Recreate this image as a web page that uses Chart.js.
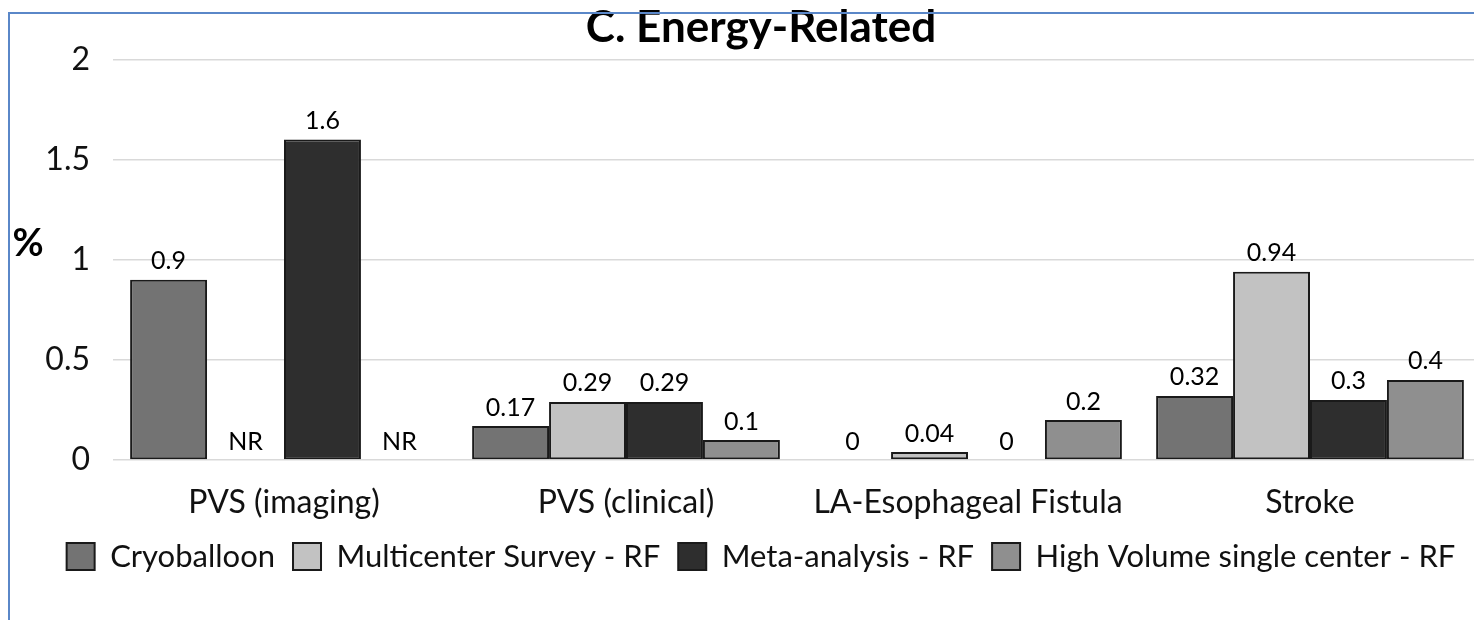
<!DOCTYPE html>
<html>
<head>
<meta charset="utf-8">
<script src="https://cdn.jsdelivr.net/npm/chart.js@4.4.1/dist/chart.umd.min.js"></script>
<style>
  html, body { margin: 0; padding: 0; background: #fff; overflow: hidden; width: 1474px; height: 620px; }
  #wrap { position: absolute; left: 0; top: 0; width: 1490px; height: 620px; }
  #frame { position: absolute; left: 8px; top: 12px; width: 1500px; height: 700px;
           border-top: 2px solid #5a87c8; border-left: 2px solid #5a87c8; pointer-events: none; }
</style>
</head>
<body>
<div id="wrap"><canvas id="c" width="1490" height="620"></canvas></div>
<div id="frame"></div>
<script>
const categories = ['PVS (imaging)', 'PVS (clinical)', 'LA-Esophageal Fistula', 'Stroke'];
const seriesNames = ['Cryoballoon', 'Multicenter Survey - RF', 'Meta-analysis - RF', 'High Volume single center - RF'];
const cryoballoon = [0.9, 0.17, 0, 0.32];
const multicenterSurvey = [null, 0.29, 0.04, 0.94];
const metaAnalysis = [1.6, 0.29, 0, 0.3];
const highVolume = [null, 0.1, 0.2, 0.4];
const yTicks = [0, 0.5, 1, 1.5, 2];
const seriesColors = ['#737373', '#c2c2c2', '#2e2e2e', '#8f8f8f'];

const seriesValues = [cryoballoon, multicenterSurvey, metaAnalysis, highVolume];

const labelPlugin = {
  id: 'valueLabels',
  afterDatasetsDraw(chart) {
    const ctx = chart.ctx;
    const y = chart.scales.y;
    ctx.save();
    ctx.font = '25px Lato';
    ctx.fillStyle = '#000';
    ctx.textAlign = 'center';
    ctx.textBaseline = 'bottom';
    chart.data.datasets.forEach((ds, di) => {
      const meta = chart.getDatasetMeta(di);
      meta.data.forEach((el, i) => {
        const v = ds.data[i];
        const txt = v === null ? 'NR' : String(v);
        const py = v === null ? y.getPixelForValue(0) : el.y;
        ctx.fillText(txt, el.x, py - 6);
      });
    });
    // "%" axis label
    ctx.font = 'bold 38px Lato';
    ctx.textBaseline = 'middle';
    ctx.fillText('%', chart.chartArea.left - 85, y.getPixelForValue(1) - 16);
    ctx.restore();
  }
};

new Chart(document.getElementById('c'), {
  type: 'bar',
  data: {
    labels: categories,
    datasets: seriesNames.map((name, i) => ({
      label: name,
      data: seriesValues[i],
      backgroundColor: seriesColors[i],
      borderColor: '#1a1a1a',
      borderWidth: 2,
      borderSkipped: false,
      categoryPercentage: 0.9,
      barPercentage: 1.0
    }))
  },
  options: {
    responsive: false,
    animation: false,
    layout: { padding: { left: 41, right: 9, top: 0, bottom: 38 } },
    plugins: {
      title: {
        display: true,
        text: 'C. Energy-Related',
        color: '#000',
        font: { family: 'Lato', size: 44, weight: 'bold', lineHeight: 1.1 },
        padding: { top: 4, bottom: 7 }
      },
      legend: {
        position: 'bottom',
        labels: {
          color: '#111',
          font: { family: 'Lato', size: 31 },
          boxWidth: 28,
          boxHeight: 27,
          padding: 18
        }
      },
      tooltip: { enabled: false }
    },
    scales: {
      x: {
        grid: { display: false },
        border: { display: false },
        afterFit: s => { s.height = 63; },
        ticks: { color: '#111', font: { family: 'Lato', size: 32 }, padding: 15, maxRotation: 0 }
      },
      y: {
        min: 0,
        max: 2,
        afterBuildTicks: s => { s.ticks = yTicks.map(v => ({ value: v })); },
        afterFit: s => { s.width = 72; },
        grid: { color: '#d9d9d9', lineWidth: 1.5, drawTicks: false },
        border: { display: false },
        ticks: { color: '#111', font: { family: 'Lato', size: 32 }, padding: 23,
                 callback: v => String(v) }
      }
    }
  },
  plugins: [labelPlugin]
});
</script>
</body>
</html>
